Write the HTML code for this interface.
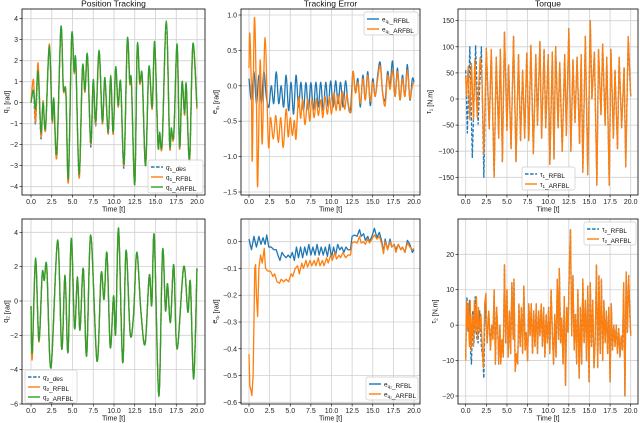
<!DOCTYPE html>
<html><head><meta charset="utf-8"><style>
html,body{margin:0;padding:0;background:#fff;}
svg{display:block;font-family:"Liberation Sans","DejaVu Sans",sans-serif;}
</style></head><body>
<svg id="fig" width="640" height="423" viewBox="0 0 640 423" xmlns="http://www.w3.org/2000/svg"></svg>
<script>
// ---------- DATA ----------
const xTicks = [0,2.5,5,7.5,10,12.5,15,17.5,20];
const xTickLabels = ["0.0","2.5","5.0","7.5","10.0","12.5","15.0","17.5","20.0"];

// q1 position
const q1T = [0,0.3,0.55,0.85,1.2,1.45,1.75,2.2,2.55,2.75,3.1,3.6,3.9,4.2,4.5,4.9,5.2,5.4,5.8,6.2,6.5,6.8,7.2,7.5,7.8,8.2,8.6,8.9,9.3,9.6,9.9,10.2,10.5,10.8,11.2,11.6,11.9,12.1,12.5,12.8,13.1,13.4,13.8,14.2,14.6,14.9,15.3,15.5,15.8,16.3,16.7,16.9,17.2,17.6,17.9,18.2,18.5,18.7,19.1,19.5,20];
const q1Arfbl = [0,0.6,-0.3,1.5,-1.4,0,-1.2,2.7,-0.8,0.2,-2.4,3.6,0.7,0.5,-3.6,3.2,1.5,2.0,-3.4,1.7,0.6,2.3,-1.9,1.1,-0.9,2.5,-0.9,1.2,-1.4,1.3,-1.4,1.7,-0.1,1.0,-2.9,3.0,1.0,1.0,-3.9,2.7,1.0,1.3,-3.0,1.7,-0.2,2.9,-2.0,-1.4,-1.9,3.9,-1.9,-1.2,-1.5,2.8,-2.1,1.0,-0.5,0.9,-2.7,2.8,-0.2];
const q1Rfbl = [0,1.1,-0.9,1.9,-1.6,0.1,-1.3,2.8,-0.9,0.1,-2.6,3.5,0.6,0.5,-3.8,3.1,1.4,1.9,-3.6,1.6,0.5,2.2,-2.0,1.0,-1.0,2.4,-1.0,1.1,-1.5,1.2,-1.5,1.6,-0.2,0.9,-3.0,2.9,0.9,0.9,-3.9,2.6,0.9,1.2,-3.0,1.6,-0.3,2.8,-2.0,-1.5,-2.0,3.8,-2.0,-1.3,-1.6,2.7,-2.2,0.9,-0.6,0.8,-2.8,2.7,-0.3];
const q1Des = [0,0.5,-1.0,1.4,-1.7,0,-1.3,2.6,-0.9,0.1,-2.6,3.5,0.6,0.5,-3.8,3.1,1.4,1.9,-3.6,1.6,0.5,2.2,-2.1,1.0,-1.1,2.4,-1.0,1.1,-1.5,1.2,-1.5,1.6,-0.2,0.9,-3.1,2.9,0.9,0.9,-3.9,2.6,0.9,1.2,-3.0,1.6,-0.3,2.8,-2.0,-1.5,-2.0,3.8,-2.0,-1.3,-1.6,2.7,-2.2,0.9,-0.6,0.8,-2.8,2.7,-0.3];

// e_q1
const e1T = [0,0.3,0.6,0.9,1.2,1.5,1.8,2.1,2.4,2.7,3.0,3.3,3.6,3.9,4.2,4.5,4.8,5.1,5.4,5.7,6.0,6.3,6.6,6.9,7.2,7.5,7.8,8.1,8.4,8.7,9.0,9.3,9.6,9.9,10.2,10.5,10.8,11.1,11.4,11.7,12.0,12.3,12.6,12.9,13.2,13.5,13.8,14.1,14.4,14.7,15.0,15.3,15.6,15.9,16.2,16.5,16.8,17.1,17.4,17.7,18.0,18.3,18.6,18.9,19.2,19.5,19.8,20];
const e1Rfbl = [0.1,-0.2,0.2,-0.25,0.15,-0.25,0.2,-0.15,-0.3,0.0,-0.25,0.2,-0.25,0.0,-0.3,0.15,-0.35,0.05,-0.4,0.15,-0.3,0.05,-0.35,0.05,-0.35,0.05,-0.35,0.05,-0.3,0.05,-0.35,0.05,-0.3,0.07,-0.3,0.07,-0.25,0.05,-0.3,0.07,-0.25,-0.35,0.2,-0.1,0.1,-0.3,0.15,-0.2,0.2,-0.28,0.1,-0.15,0.15,0.33,-0.1,-0.2,0.2,0.0,0.35,-0.15,0.25,-0.2,0.15,-0.15,0.3,-0.2,0.1,0.05];
const e1aT = [0,0.1,0.3,0.4,0.65,0.9,1.05,1.35,1.6,1.95,2.35,2.6,2.95,3.25,3.55,3.85,4.15,4.5,4.75,5.0,5.25,5.5,5.7,6.0,6.25,6.5,6.8,7.1,7.35,7.6,7.9,8.15,8.4,8.7,8.95,9.2,9.5,9.75,10.0,10.3,10.55,10.8,11.05,11.3,11.6,11.85,12.1,12.4,12.6,12.9,13.2,13.5,13.8,14.1,14.4,14.7,15.0,15.3,15.6,15.9,16.2,16.5,16.8,17.1,17.4,17.7,18.0,18.3,18.6,18.9,19.2,19.5,19.8,20];
const e1Arfbl = [0.25,0.74,-0.13,-1.04,0.95,-0.2,-1.42,0.36,-0.82,0.68,-0.84,-0.45,-0.75,-0.42,-0.8,-0.45,-0.87,-0.33,-0.72,-0.45,-0.7,-0.49,-0.75,-0.16,-0.46,-0.2,-0.55,-0.18,-0.5,-0.2,-0.45,-0.18,-0.42,-0.2,-0.45,-0.15,-0.4,-0.15,-0.4,-0.1,-0.35,-0.12,-0.35,-0.08,-0.33,-0.12,-0.3,-0.35,0.2,-0.1,0.05,-0.25,0.1,-0.2,0.15,-0.22,0.05,-0.15,0.1,0.28,-0.1,-0.28,0.15,-0.05,0.22,-0.15,0.2,-0.2,0.1,-0.15,0.22,-0.18,0.0,0.05];

// tau1
const tau1T = [0,0.1,0.3,0.5,0.7,0.95,1.1,1.4,1.75,1.95,2.2,2.5,2.85,3.1,3.45,3.7,4.0,4.2,4.45,4.7,5.0,5.2,5.5,5.8,6.1,6.4,6.65,6.9,7.15,7.4,7.65,7.9,8.2,8.5,8.7,9.0,9.2,9.5,9.7,10.0,10.2,10.5,10.7,10.9,11.2,11.4,11.7,12.0,12.2,12.5,12.75,13.0,13.25,13.5,13.8,14.0,14.2,14.5,14.8,15.1,15.3,15.6,15.9,16.1,16.4,16.6,16.9,17.1,17.4,17.6,17.9,18.1,18.4,18.6,18.9,19.2,19.4,19.7,20];
const tau1Arfbl = [43,5,62,-40,68,-40,75,-35,80,50,-105,97,-57,95,-150,80,-75,95,-120,128,-60,65,-95,120,-120,85,-80,55,-75,88,-80,103,-105,85,-50,110,-75,95,-55,85,-125,90,-115,100,-55,70,-100,85,-70,135,-100,75,-45,80,-85,85,-140,120,-145,150,0,90,-165,95,-30,105,-50,80,-165,95,-75,55,-95,80,-55,60,-130,120,5];
const tau1EarlyT = [0,0.2,0.5,0.8,1.2,1.5,1.9,2.2];
const tau1EarlyRfbl = [55,-65,100,-113,102,-48,100,-150];

// q2 position
const q2T = [0,0.15,0.55,0.95,1.35,1.6,1.9,2.4,3.2,3.7,4.1,4.45,4.85,5.25,5.6,5.9,6.3,6.7,7.2,7.95,8.45,8.8,9.15,9.55,9.95,10.2,10.55,11.05,11.45,11.95,12.35,12.75,13.25,13.75,14.25,14.55,14.85,15.4,15.85,16.2,16.45,16.8,17.2,17.6,18.4,18.9,19.2,19.6,20];
const q2Arfbl = [-0.3,-3.0,2.5,-2.3,1.6,1.2,2.0,-3.9,3.55,-2.8,1.5,-3.0,3.65,-1.6,1.4,-1.7,1.9,-3.2,3.85,-3.5,1.6,0.1,2.8,-2.7,0.3,-1.9,4.25,-3.6,2.95,-1.9,-0.85,2.85,-0.65,-2.5,1.5,-0.25,3.8,-5.55,2.95,-0.55,1.0,-1.25,2.1,-2.8,2.0,-0.65,1.1,-4.55,1.9];
const q2Rfbl = [-0.3,-3.4,2.4,-2.4,1.5,1.2,1.9,-3.9,3.5,-2.8,1.5,-3.0,3.6,-1.6,1.4,-1.7,1.9,-3.2,3.8,-3.5,1.6,0.1,2.8,-2.7,0.3,-1.9,4.2,-3.6,2.9,-1.9,-0.85,2.8,-0.65,-2.5,1.5,-0.25,3.8,-5.5,2.9,-0.55,1.0,-1.25,2.1,-2.8,2.0,-0.65,1.1,-4.5,1.9];
const q2Des = [-0.3,-3.2,2.4,-2.3,1.6,1.2,2.0,-3.9,3.5,-2.8,1.5,-3.0,3.6,-1.6,1.4,-1.7,1.9,-3.2,3.8,-3.5,1.6,0.1,2.8,-2.7,0.3,-1.9,4.2,-3.6,2.9,-1.9,-0.85,2.8,-0.65,-2.5,1.5,-0.25,3.8,-5.5,2.9,-0.55,1.0,-1.25,2.1,-2.8,2.0,-0.65,1.1,-4.5,1.9];

// e_q2
const e2T = [0,0.3,0.6,0.9,1.2,1.45,1.7,1.95,2.15,2.4,2.7,3.0,3.3,3.5,3.75,4.0,4.2,4.5,4.75,5.0,5.25,5.5,5.75,6.0,6.25,6.5,6.75,7.0,7.25,7.5,7.75,8.0,8.25,8.5,8.75,9.0,9.25,9.5,9.75,10.0,10.25,10.5,10.75,11.0,11.25,11.5,11.75,12.0,12.3,12.5,12.8,13.1,13.4,13.6,13.9,14.1,14.4,14.6,14.9,15.2,15.5,15.8,16.1,16.3,16.5,16.8,17.1,17.3,17.6,17.8,18.1,18.4,18.6,18.9,19.2,19.5,19.8,20];
const e2Rfbl = [0.01,-0.03,0.02,-0.02,0.02,-0.01,0.015,-0.01,0.025,-0.02,-0.02,-0.03,-0.03,-0.05,-0.07,-0.04,-0.05,-0.06,-0.05,-0.06,-0.04,-0.07,-0.02,-0.06,-0.02,-0.06,-0.02,-0.05,-0.01,-0.05,-0.02,-0.05,-0.01,-0.05,-0.02,-0.05,-0.02,-0.055,-0.01,-0.06,-0.02,-0.05,-0.01,-0.03,-0.02,-0.04,-0.02,-0.03,-0.03,0.02,0.025,0.02,0.045,0.02,0.03,0.005,0.02,0.0,0.02,0.05,0.015,0.035,0.0,-0.04,0.01,-0.03,0.01,-0.02,-0.01,-0.03,-0.01,-0.03,-0.02,-0.04,0.005,-0.01,-0.04,-0.03];
const e2aT = [0,0.1,0.2,0.35,0.5,0.7,0.8,0.9,1.05,1.2,1.4,1.6,1.85,2.0,2.3,2.6,2.9,3.1,3.4,3.7,3.9,4.2,4.5,4.8,5.1,5.3,5.6,5.9,6.1,6.4,6.6,6.9,7.1,7.4,7.6,7.9,8.1,8.4,8.6,8.9,9.1,9.4,9.6,9.9,10.1,10.4,10.6,10.9,11.1,11.4,11.7,12.0,12.3,12.5,12.8,13.1,13.4,13.6,13.9,14.1,14.4,14.6,14.9,15.2,15.5,15.8,16.1,16.3,16.5,16.8,17.1,17.3,17.6,17.8,18.1,18.4,18.6,18.9,19.2,19.5,19.8,20];
const e2Arfbl = [-0.42,-0.54,-0.55,-0.575,-0.5,-0.1,-0.085,-0.2,-0.28,-0.1,-0.05,-0.08,-0.025,-0.1,-0.11,-0.11,-0.13,-0.12,-0.15,-0.155,-0.14,-0.15,-0.14,-0.15,-0.12,-0.13,-0.1,-0.09,-0.12,-0.08,-0.1,-0.07,-0.095,-0.07,-0.09,-0.07,-0.09,-0.06,-0.09,-0.07,-0.09,-0.06,-0.08,-0.05,-0.07,-0.04,-0.065,-0.05,-0.06,-0.04,-0.06,-0.05,-0.05,-0.005,0.0,-0.005,0.02,-0.005,0.0,-0.01,0.01,-0.005,0.01,0.025,0.01,0.02,-0.01,-0.045,0.0,-0.03,0.0,-0.02,-0.01,-0.04,-0.01,-0.03,-0.02,-0.04,-0.005,-0.02,-0.03,-0.025];

// tau2
const tau2T = [0,0.1,0.2,0.3,0.45,0.55,0.65,0.8,0.95,1.05,1.2,1.3,1.45,1.55,1.7,1.85,2.0,2.15,2.3,2.45,2.6,2.8,3.0,3.15,3.3,3.45,3.6,3.75,3.9,4.0,4.15,4.25,4.4,4.55,4.7,4.85,5.0,5.15,5.3,5.45,5.6,5.75,5.85,6.0,6.15,6.3,6.45,6.6,6.75,6.9,7.05,7.2,7.35,7.5,7.65,7.8,7.95,8.1,8.25,8.4,8.55,8.7,8.85,9.0,9.15,9.3,9.45,9.6,9.75,9.9,10.05,10.2,10.35,10.5,10.65,10.8,10.95,11.1,11.25,11.35,11.5,11.65,11.8,11.95,12.1,12.25,12.4,12.55,12.7,12.85,13.0,13.15,13.3,13.45,13.6,13.75,13.9,14.05,14.2,14.35,14.5,14.65,14.8,14.95,15.1,15.25,15.4,15.55,15.7,15.85,16.0,16.15,16.3,16.45,16.6,16.75,16.9,17.05,17.2,17.35,17.5,17.65,17.8,17.95,18.1,18.25,18.4,18.55,18.7,18.85,19.0,19.15,19.3,19.45,19.6,19.75,19.9,20];
const tau2Arfbl = [-10,7,-1,6,-6,7,-7,3,-6,7,-2,8,-4,5,-2,3,-6,-12,6,9,-5,4,-7,0,-4,10,-11,5,-2,-11,0,-11,-4,-9,17,-5,10,-9,4,-8,12,-4,13,-13,-8,-11,6,-6,5,-8,11,-7,-2,-10,6,-3,6,-8,4,-6,6,-8,4,-3,6,-6,5,-9,3,-5,5,-8,10,-2,-11,3,-9,13,-4,16,-5,2,-11,8,-17,5,-2,15,27,-3,14,-7,3,-11,10,-15,5,-11,13,-5,7,-10,11,-16,12,-6,7,-12,-4,17,-12,14,-8,13,-10,7,-5,4,-8,5,-16,6,-7,0,-6,0,-8,-1,-9,-3,-7,12,-20,15,-2,14,3,-3];
const tau2EarlyT = [0,0.15,0.3,0.45,0.6,0.7,0.85,1.0,1.15,1.3,1.5,1.7,1.9,2.05,2.2,2.35];
const tau2EarlyRfbl = [-9,8,-2,7,-8,-11,4,-5,8,-3,-5,4,-6,-9,-15,7];

// ---------- DRAWING ----------
const svg = document.getElementById('fig');
const NS = 'http://www.w3.org/2000/svg';
const BLUE = '#1f77b4', ORANGE = '#ff7f0e', GREEN = '#2ca02c';
function mk(tag, attrs, parent){
  const e = document.createElementNS(NS, tag);
  for (const k in attrs) e.setAttribute(k, attrs[k]);
  (parent||svg).appendChild(e);
  return e;
}
function pathD(pts, smooth){
  let d = 'M' + pts[0][0].toFixed(2) + ',' + pts[0][1].toFixed(2);
  for (let i = 1; i < pts.length; i++) {
    if (!smooth) { d += 'L' + pts[i][0].toFixed(2) + ',' + pts[i][1].toFixed(2); continue; }
    const p0 = pts[Math.max(0, i - 2)], p1 = pts[i - 1], p2 = pts[i], p3 = pts[Math.min(pts.length - 1, i + 1)];
    const c1x = p1[0] + (p2[0] - p0[0]) / 6, c1y = p1[1] + (p2[1] - p0[1]) / 6;
    const c2x = p2[0] - (p3[0] - p1[0]) / 6, c2y = p2[1] - (p3[1] - p1[1]) / 6;
    d += 'C' + c1x.toFixed(2) + ',' + c1y.toFixed(2) + ' ' + c2x.toFixed(2) + ',' + c2y.toFixed(2) + ' ' + p2[0].toFixed(2) + ',' + p2[1].toFixed(2);
  }
  return d;
}
function makeAxes(cfg){
  const g = mk('g', {});
  
  
  const xs = t => cfg.x0 + (t - 0) / 20 * (cfg.x1 - cfg.x0);
  const ys = v => cfg.yA + (cfg.vA - v) / (cfg.vA - cfg.vB) * (cfg.yB - cfg.yA);
  xTicks.forEach((t, i) => {
    const gl = mk('line', {x1: xs(t), x2: xs(t), y1: cfg.top, y2: cfg.bot, stroke: '#d0d0d0', 'stroke-width': 0.8}, g);
    
    
    const tk = mk('line', {x1: xs(t), x2: xs(t), y1: cfg.bot, y2: cfg.bot + 2.5, stroke: '#000', 'stroke-width': 0.6}, g);
    
    
    const lb = mk('text', {x: xs(t), y: cfg.bot + 9, 'font-size': 7, 'text-anchor': 'middle', fill: '#222'}, g);
    lb.textContent = xTickLabels[i];
    
    
  });
  cfg.yTicks.forEach((v, i) => {
    const gl = mk('line', {x1: cfg.left, x2: cfg.right, y1: ys(v), y2: ys(v), stroke: '#d0d0d0', 'stroke-width': 0.8}, g);
    
    
    const tk = mk('line', {x1: cfg.left - 2.5, x2: cfg.left, y1: ys(v), y2: ys(v), stroke: '#000', 'stroke-width': 0.6}, g);
    
    
    const lb = mk('text', {x: cfg.left - 4, y: ys(v) + 2.5, 'font-size': 7, 'text-anchor': 'end', fill: '#222'}, g);
    lb.textContent = cfg.yLabels[i];
    
    
  });
  const cid = 'clip-' + cfg.name;
  const cp = mk('clipPath', {id: cid}, g);
  mk('rect', {x: cfg.left, y: cfg.top, width: cfg.right - cfg.left, height: cfg.bot - cfg.top}, cp);
  const plot = mk('g', {'clip-path': 'url(#' + cid + ')'}, g);
  
  
  cfg.series.forEach(s => {
    const pts = s.t.map((t, i) => [xs(t), ys(s.v[i])]);
    const p = mk('path', {d: pathD(pts, cfg.smooth), fill: 'none', stroke: s.color, 'stroke-width': s.w || 1.3, 'stroke-linejoin': 'round'}, plot);
    if (s.dash) p.setAttribute('stroke-dasharray', '3.5,1.6');
    
    
  });
  const fr = mk('rect', {x: cfg.left, y: cfg.top, width: cfg.right - cfg.left, height: cfg.bot - cfg.top, fill: 'none', stroke: '#000', 'stroke-width': 0.8}, g);
  
  
  if (cfg.title) {
    const ti = mk('text', {x: (cfg.left + cfg.right) / 2, y: cfg.top - 2.5, 'font-size': 8.5, 'text-anchor': 'middle', fill: '#111'}, g);
    ti.textContent = cfg.title;
    
    
  }
  const xl = mk('text', {x: (cfg.left + cfg.right) / 2, y: cfg.bot + 16.5, 'font-size': 7, 'text-anchor': 'middle', fill: '#111'}, g);
  xl.textContent = 'Time [t]';
  
  
  const yl = mk('text', {x: 0, y: 0, 'font-size': 7, 'text-anchor': 'middle', fill: '#111', transform: 'translate(' + cfg.ylx + ',' + (cfg.top + cfg.bot) / 2 + ') rotate(-90)'}, g);
  yl.innerHTML = cfg.ylabel;
  
  
  const L = cfg.legend;
  const lg = mk('g', {}, g);
  
  
  mk('rect', {x: L.x, y: L.y, width: L.w, height: L.items.length * 10 + 3, rx: 2, fill: '#fff', 'fill-opacity': 0.85, stroke: '#ccc', 'stroke-width': 0.7}, lg);
  L.items.forEach((it, i) => {
    const yy = L.y + 7 + i * 10;
    const ln = mk('line', {x1: L.x + 3, x2: L.x + 15, y1: yy, y2: yy, stroke: it.color, 'stroke-width': 1.4}, lg);
    if (it.dash) ln.setAttribute('stroke-dasharray', '3.5,1.6');
    
    
    const tx = mk('text', {x: L.x + 18, y: yy + 2.5, 'font-size': 6.4, fill: '#111'}, lg);
    tx.innerHTML = it.label;
    
    
  });
}
const sub = s => '<tspan font-size="4.6" dy="1.5">' + s + '</tspan><tspan dy="-1.5"></tspan>';

makeAxes({name:'position-q1', smooth:true, left:22, right:205, top:9, bot:195, x0:31, x1:197, vA:4, yA:18.7, vB:-4, yB:186.7,
  yTicks:[-4,-3,-2,-1,0,1,2,3,4], yLabels:['\u22124','\u22123','\u22122','\u22121','0','1','2','3','4'],
  title:'Position Tracking', ylx:8, ylabel:'q'+sub('1')+' [rad]',
  series:[{t:q1T,v:q1Des,color:BLUE,dash:true,name:'q1-des-line'},{t:q1T,v:q1Rfbl,color:ORANGE,name:'q1-rfbl-line'},{t:q1T,v:q1Arfbl,color:GREEN,name:'q1-arfbl-line'}],
  legend:{x:148,y:160,w:55,items:[{color:BLUE,dash:true,label:'<tspan font-style="italic">q</tspan>'+sub('1')+'_<tspan font-style="italic">des</tspan>'},{color:ORANGE,label:'q'+sub('1')+'_RFBL'},{color:GREEN,label:'q'+sub('1')+'_ARFBL'}]}});

makeAxes({name:'error-q1', smooth:true, left:241, right:420, top:9, bot:195, x0:249, x1:414, vA:1.0, yA:15, vB:-1.5, yB:192,
  yTicks:[-1.5,-1,-0.5,0,0.5,1], yLabels:['\u22121.5','\u22121.0','\u22120.5','0.0','0.5','1.0'],
  title:'Tracking Error', ylx:217, ylabel:'e'+sub('q\u2081')+' [rad]',
  series:[{t:e1T,v:e1Rfbl,color:BLUE,name:'eq1-rfbl-line'},{t:e1aT,v:e1Arfbl,color:ORANGE,name:'eq1-arfbl-line'}],
  legend:{x:364,y:12,w:54,items:[{color:BLUE,label:'e'+sub('q\u2081')+'_RFBL'},{color:ORANGE,label:'e'+sub('q\u2081')+'_ARFBL'}]}});

makeAxes({name:'torque-1', left:458, right:638, top:9, bot:195, x0:465.7, x1:630.7, vA:150, yA:20.7, vB:-150, yB:177.3,
  yTicks:[-150,-100,-50,0,50,100,150], yLabels:['\u2212150','\u2212100','\u221250','0','50','100','150'],
  title:'Torque', ylx:431, ylabel:'\u03c4'+sub('1')+' [N.m]',
  series:[{t:tau1EarlyT.concat(tau1T.slice(11)),v:tau1EarlyRfbl.concat(tau1Arfbl.slice(11)),color:BLUE,dash:true,name:'tau1-rfbl-line'},{t:tau1T,v:tau1Arfbl,color:ORANGE,name:'tau1-arfbl-line'}],
  legend:{x:522,y:167,w:53,items:[{color:BLUE,dash:true,label:'\u03c4'+sub('1')+'_RFBL'},{color:ORANGE,label:'\u03c4'+sub('1')+'_ARFBL'}]}});

makeAxes({name:'position-q2', smooth:true, left:22, right:205, top:219, bot:404, x0:31, x1:197, vA:4, yA:232.3, vB:-6, yB:404,
  yTicks:[-6,-4,-2,0,2,4], yLabels:['\u22126','\u22124','\u22122','0','2','4'],
  title:'', ylx:8, ylabel:'q'+sub('2')+' [rad]',
  series:[{t:q2T,v:q2Des,color:BLUE,dash:true,name:'q2-des-line'},{t:q2T,v:q2Rfbl,color:ORANGE,name:'q2-rfbl-line'},{t:q2T,v:q2Arfbl,color:GREEN,name:'q2-arfbl-line'}],
  legend:{x:25,y:370,w:52,items:[{color:BLUE,dash:true,label:'<tspan font-style="italic">q</tspan>'+sub('2')+'_<tspan font-style="italic">des</tspan>'},{color:ORANGE,label:'q'+sub('2')+'_RFBL'},{color:GREEN,label:'q'+sub('2')+'_ARFBL'}]}});

makeAxes({name:'error-q2', left:241, right:420, top:219, bot:404, x0:249, x1:414, vA:0, yA:241.7, vB:-0.6, yB:402.3,
  yTicks:[-0.6,-0.5,-0.4,-0.3,-0.2,-0.1,0], yLabels:['\u22120.6','\u22120.5','\u22120.4','\u22120.3','\u22120.2','\u22120.1','0.0'],
  title:'', ylx:217, ylabel:'e'+sub('q\u2082')+' [rad]',
  series:[{t:e2T,v:e2Rfbl,color:BLUE,name:'eq2-rfbl-line'},{t:e2aT,v:e2Arfbl,color:ORANGE,name:'eq2-arfbl-line'}],
  legend:{x:366,y:377,w:52,items:[{color:BLUE,label:'e'+sub('q\u2082')+'_RFBL'},{color:ORANGE,label:'e'+sub('q\u2082')+'_ARFBL'}]}});

makeAxes({name:'torque-2', left:458, right:638, top:219, bot:404, x0:465.7, x1:630.7, vA:20, yA:254.3, vB:-20, yB:396,
  yTicks:[-20,-10,0,10,20], yLabels:['\u221220','\u221210','0','10','20'],
  title:'', ylx:436, ylabel:'\u03c4'+sub('2')+' [N.m]',
  series:[{t:tau2EarlyT.concat(tau2T.slice(20)),v:tau2EarlyRfbl.concat(tau2Arfbl.slice(20)),color:BLUE,dash:true,name:'tau2-rfbl-line'},{t:tau2T,v:tau2Arfbl,color:ORANGE,name:'tau2-arfbl-line'}],
  legend:{x:584,y:222,w:52,items:[{color:BLUE,dash:true,label:'\u03c4'+sub('2')+'_RFBL'},{color:ORANGE,label:'\u03c4'+sub('2')+'_ARFBL'}]}});
</script>
</body></html>
